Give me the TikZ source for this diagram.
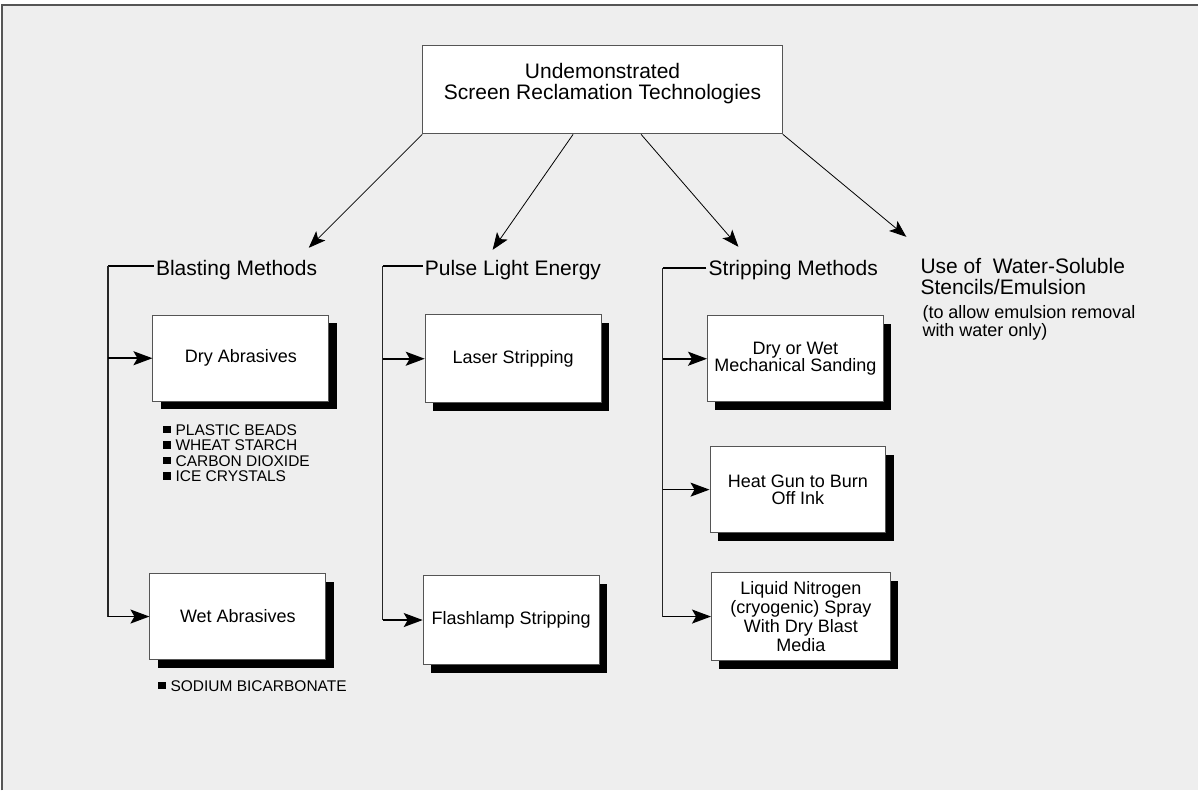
\documentclass[tikz,border=0pt]{standalone}
\usepackage{fontspec}
\setmainfont{Liberation Sans}
\usepackage{tikz}
\usetikzlibrary{arrows.meta,shadows}
\definecolor{panel}{RGB}{238,238,238}
\definecolor{rim}{RGB}{85,85,85}
\newcommand{\sqbullet}{\rule[1.8pt]{7.5pt}{7.5pt}\hspace{5pt}}

\begin{document}
\begin{tikzpicture}[x=1pt, y=-1pt,
    box/.style={draw=rim, fill=white, line width=0.9pt, minimum width=176pt, minimum height=86pt,
        inner sep=0pt, align=center, font=\fontsize{18}{17.5}\selectfont},
    shadowbox/.style={box, drop shadow={shadow xshift=8pt, shadow yshift=-8pt, fill=black, opacity=1}},
    heading/.style={anchor=base west, inner sep=2pt, font=\fontsize{21}{21}\selectfont},
    items/.style={anchor=north west, inner sep=0pt, align=left, font=\fontsize{15.5}{15.5}\selectfont},
    spoke/.style={-{Stealth[length=17pt,width=13pt,inset=4pt]}, line width=0.8pt},
    rail/.style={line width=1.3pt, draw=black!85},
    tick/.style={line width=1.7pt},
    feed/.style={-{Stealth[length=19pt,width=14pt,inset=4pt]}, line width=1.7pt}]

    % Draw the grey panel
    \fill[white] (0,0) rectangle (1199,791);
    \fill[panel] (2,5) rectangle (1199,791);
    \draw[rim, line width=1.8pt] (2,791) -- (2,5) -- (1199,5);
    \useasboundingbox (0,0) rectangle (1199,791);

    % Top box
    \node[box, minimum width=360pt, minimum height=89pt, font=\fontsize{21}{21}\selectfont] (top) at (603,89.5)
        {\raisebox{5pt}[\height][\depth]{\begin{tabular}{@{}c@{}}Undemonstrated\\Screen Reclamation Technologies\end{tabular}}};

    % Group headings
    \node[heading] (blast) at (154,276) {Blasting Methods};
    \node[heading] (pulse) at (423,276) {Pulse Light Energy};
    \node[heading] (strip) at (707,276) {Stripping Methods};
    \node[heading, anchor=north west, align=left, inner sep=0pt] (water) at (921,258)
        {Use of\ \ Water-Soluble\\Stencils/Emulsion};
    \node[items, font=\fontsize{18}{18.5}\selectfont] (waterNote) at (923,305)
        {(to allow emulsion removal\\with water only)};

    % Arrows from the top box
    \coordinate (blastTip) at (309,248);
    \coordinate (pulseTip) at (493,250);
    \coordinate (stripTip) at (739,247);
    \coordinate (waterTip) at (907,237);
    \draw[spoke] (top.south west) -- (blastTip);
    \draw[spoke] ([xshift=151pt]top.south west) -- (pulseTip);
    \draw[spoke] ([xshift=219pt]top.south west) -- (stripTip);
    \draw[spoke] (top.south east) -- (waterTip);

    % Method boxes
    \node[shadowbox] (dry) at (241,358.5) {Dry Abrasives};
    \node[shadowbox] (wet) at (238,617) {Wet Abrasives};
    \node[shadowbox, minimum height=88pt] (laser) at (513.5,359) {Laser Stripping};
    \node[shadowbox, minimum height=89pt] (flash) at (511.5,620.5) {Flashlamp Stripping};
    \node[shadowbox] (sand) at (796,359) {Dry or Wet\\Mechanical Sanding};
    \node[shadowbox] (heat) at (798.5,490) {Heat Gun to Burn\\Off Ink};
    \node[shadowbox, minimum width=179pt, minimum height=88pt, font=\fontsize{18}{18.7}\selectfont] (nitro) at (801.5,617)
        {Liquid Nitrogen\\(cryogenic) Spray\\With Dry Blast\\Media};

    % Bullet lists
    \node[items] (dryList) at (163,424.5)
        {\sqbullet PLASTIC BEADS\\\sqbullet WHEAT STARCH\\\sqbullet CARBON DIOXIDE\\\sqbullet ICE CRYSTALS};
    \node[items] (wetList) at (158,680.5) {\sqbullet SODIUM BICARBONATE};

    % Brackets
    \coordinate (blastTop) at (108,266);
    \coordinate (pulseTop) at (383,266);
    \coordinate (stripTop) at (663,268);

    \draw[tick] (blast.west |- blastTop) -- (blastTop);
    \draw[rail] (blastTop) -- (blastTop |- wet.west);
    \draw[feed] (blastTop |- dry.west) -- (dry.west);
    \draw[feed] (blastTop |- wet.west) -- (wet.west);

    \draw[tick] (pulse.west |- pulseTop) -- (pulseTop);
    \draw[rail] (pulseTop) -- (pulseTop |- flash.west);
    \draw[feed] (pulseTop |- laser.west) -- (laser.west);
    \draw[feed] (pulseTop |- flash.west) -- (flash.west);

    \draw[tick] (strip.west |- stripTop) -- (stripTop);
    \draw[rail] (stripTop) -- (stripTop |- nitro.west);
    \draw[feed] (stripTop |- sand.west) -- (sand.west);
    \draw[feed] (stripTop |- heat.west) -- (heat.west);
    \draw[feed] (stripTop |- nitro.west) -- (nitro.west);
\end{tikzpicture}
\end{document}
